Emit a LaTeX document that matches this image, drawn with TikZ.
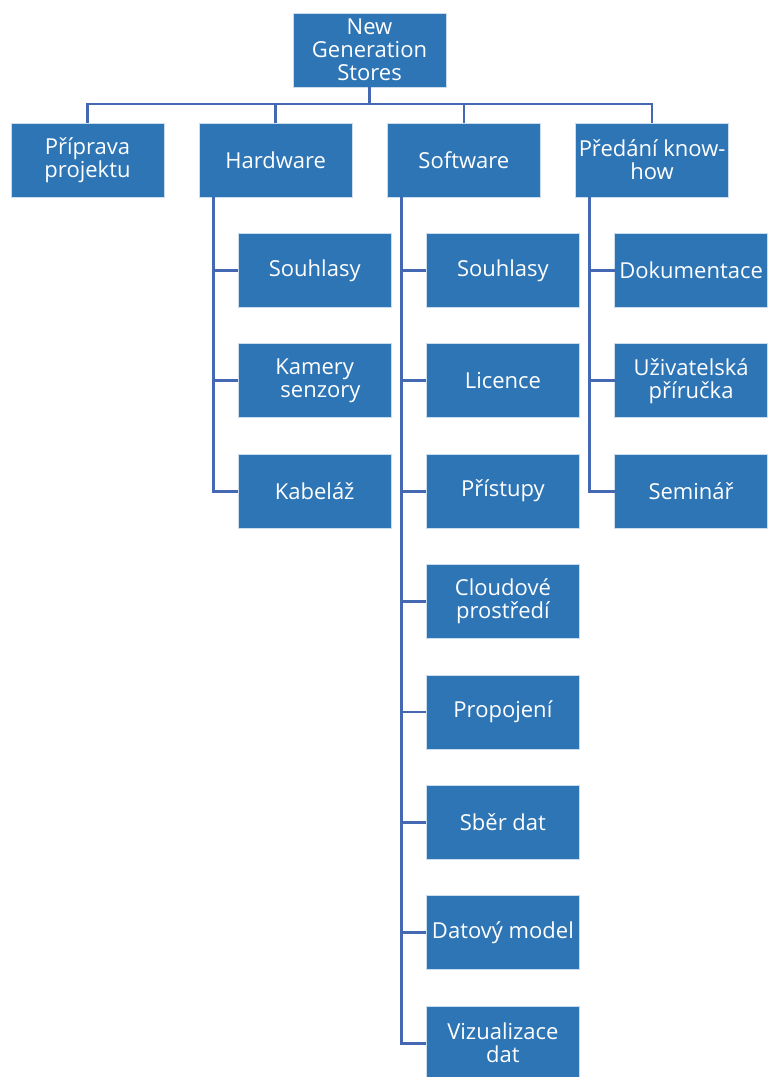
\documentclass[tikz,border=0pt]{standalone}
\usepackage{fontspec}
\setmainfont{Open Sans}
\usetikzlibrary{positioning}
\definecolor{boxfill}{RGB}{46,117,182}
\definecolor{linkblue}{RGB}{68,104,178}

\begin{document}
\begin{tikzpicture}[x=0.75pt, y=-0.75pt, node distance=27.3pt,
  box/.style={draw=white!75!boxfill, line width=0.5pt, fill=boxfill, text=white, rectangle, align=center,
    minimum width=114.75pt, minimum height=55.5pt, inner sep=1pt, outer sep=0pt,
    font=\fontsize{16.5}{17.3}\selectfont},
  link/.style={draw=linkblue, line width=2pt}]
  \useasboundingbox (0,0) rectangle (768,1077);

  % Top
  \node[box] (NGS) at (369.5,50) {New\\Generation\\Stores};

  % Phases
  \node[box] (Priprava) at (87.5,160) {Příprava\\projektu};
  \node[box] (Hardware) [right=26.4pt of Priprava] {Hardware};
  \node[box] (Software) [right=26.4pt of Hardware] {Software};
  \node[box] (Predani) [right=26.4pt of Software] {Předání know-\\how};

  % Hardware
  \node[box] (HwSouhlasy) [below=of Hardware, xshift=29.25pt] {Souhlasy};
  \node[box] (Kamery) [below=of HwSouhlasy] {Kamery\\\ \ senzory};
  \node[box] (Kabelaz) [below=of Kamery] {Kabeláž};

  % Software
  \node[box] (SwSouhlasy) [below=of Software, xshift=29.25pt] {Souhlasy};
  \node[box] (Licence) [below=of SwSouhlasy] {Licence};
  \node[box] (Pristupy) [below=of Licence] {Přístupy};
  \node[box] (Cloud) [below=of Pristupy] {Cloudové\\prostředí};
  \node[box] (Propojeni) [below=of Cloud] {Propojení};
  \node[box] (Sber) [below=of Propojeni] {Sběr dat};
  \node[box] (Model) [below=of Sber] {Datový model};
  \node[box] (Vizualizace) [below=of Model] {Vizualizace\\dat};

  % Know-how
  \node[box] (Dokumentace) [below=of Predani, xshift=29.25pt] {Dokumentace};
  \node[box] (Prirucka) [below=of Dokumentace] {Uživatelská\\příručka};
  \node[box] (Seminar) [below=of Prirucka] {Seminář};

  % Top links
  \draw[link] (NGS.south) -- ++(0,17) -| (Priprava.north);
  \draw[link] (NGS.south) -- ++(0,17) -| (Hardware.north);
  \draw[link] (NGS.south) -- ++(0,17) -| (Software.north);
  \draw[link] (NGS.south) -- ++(0,17) -| (Predani.north);

  % Hardware links
  \draw[link] ([xshift=10.5pt]Hardware.south west) |- (HwSouhlasy.west);
  \draw[link] ([xshift=10.5pt]Hardware.south west) |- (Kamery.west);
  \draw[link] ([xshift=10.5pt]Hardware.south west) |- (Kabelaz.west);

  % Software links
  \draw[link] ([xshift=10.5pt]Software.south west) |- (SwSouhlasy.west);
  \draw[link] ([xshift=10.5pt]Software.south west) |- (Licence.west);
  \draw[link] ([xshift=10.5pt]Software.south west) |- (Pristupy.west);
  \draw[link] ([xshift=10.5pt]Software.south west) |- (Cloud.west);
  \draw[link] ([xshift=10.5pt]Software.south west) |- (Propojeni.west);
  \draw[link] ([xshift=10.5pt]Software.south west) |- (Sber.west);
  \draw[link] ([xshift=10.5pt]Software.south west) |- (Model.west);
  \draw[link] ([xshift=10.5pt]Software.south west) |- (Vizualizace.west);

  % Know-how links
  \draw[link] ([xshift=10.5pt]Predani.south west) |- (Dokumentace.west);
  \draw[link] ([xshift=10.5pt]Predani.south west) |- (Prirucka.west);
  \draw[link] ([xshift=10.5pt]Predani.south west) |- (Seminar.west);
\end{tikzpicture}
\end{document}
